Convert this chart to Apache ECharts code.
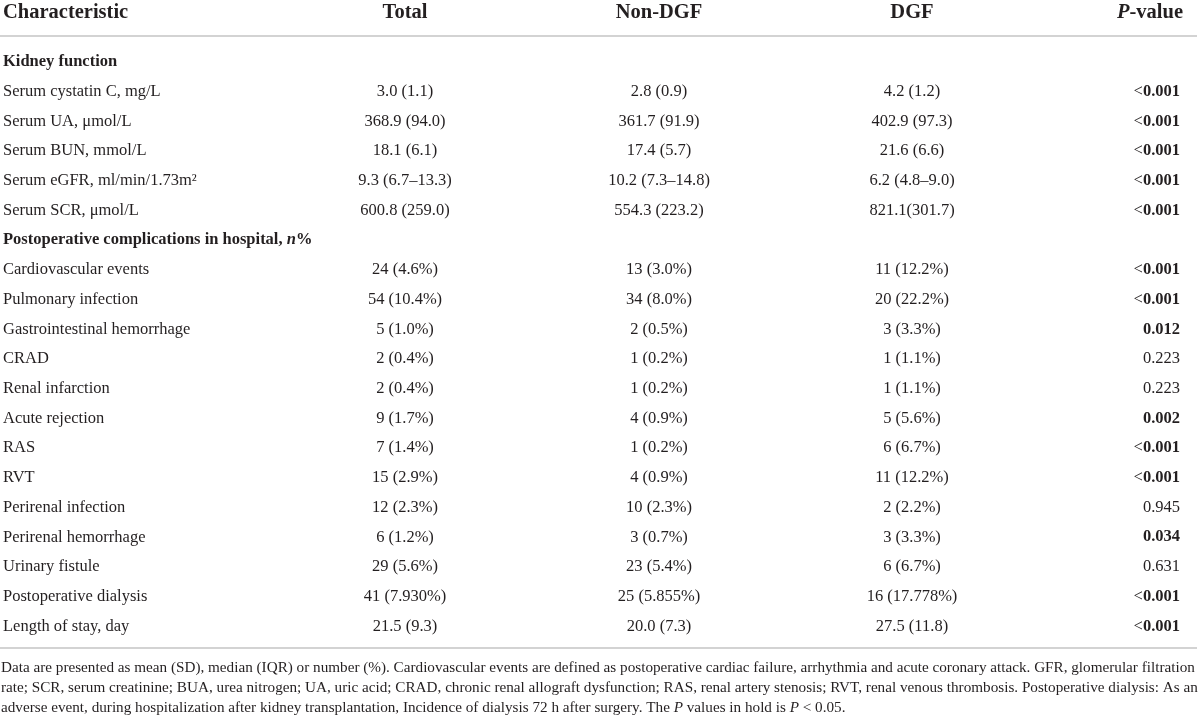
<!DOCTYPE html>
<html>
<head>
<meta charset="utf-8">
<title>DGF table</title>
<style>
  html, body { margin: 0; padding: 0; background: #fff; }
  #container { width: 1200px; height: 721px; }
</style>
</head>
<body>
<div id="container"></div>
<script src="https://cdn.jsdelivr.net/npm/echarts@6/dist/echarts.min.js"></script>
<script>
// ---- table content ----
var headers = ['Characteristic', 'Total', 'Non-DGF', 'DGF', '{i|P}-value'];

var rowLabels = [
  'Kidney function',
  'Serum cystatin C, mg/L',
  'Serum UA, \u03bcmol/L',
  'Serum BUN, mmol/L',
  'Serum eGFR, ml/min/1.73m\u00b2',
  'Serum SCR, \u03bcmol/L',
  'Postoperative complications in hospital, {bi|n}%',
  'Cardiovascular events',
  'Pulmonary infection',
  'Gastrointestinal hemorrhage',
  'CRAD',
  'Renal infarction',
  'Acute rejection',
  'RAS',
  'RVT',
  'Perirenal infection',
  'Perirenal hemorrhage',
  'Urinary fistule',
  'Postoperative dialysis',
  'Length of stay, day'
];
var sectionRows = [0, 6];

var totalVals = ['', '3.0 (1.1)', '368.9 (94.0)', '18.1 (6.1)', '9.3 (6.7\u201313.3)', '600.8 (259.0)',
  '', '24 (4.6%)', '54 (10.4%)', '5 (1.0%)', '2 (0.4%)', '2 (0.4%)', '9 (1.7%)', '7 (1.4%)',
  '15 (2.9%)', '12 (2.3%)', '6 (1.2%)', '29 (5.6%)', '41 (7.930%)', '21.5 (9.3)'];
var nonDgfVals = ['', '2.8 (0.9)', '361.7 (91.9)', '17.4 (5.7)', '10.2 (7.3\u201314.8)', '554.3 (223.2)',
  '', '13 (3.0%)', '34 (8.0%)', '2 (0.5%)', '1 (0.2%)', '1 (0.2%)', '4 (0.9%)', '1 (0.2%)',
  '4 (0.9%)', '10 (2.3%)', '3 (0.7%)', '23 (5.4%)', '25 (5.855%)', '20.0 (7.3)'];
var dgfVals = ['', '4.2 (1.2)', '402.9 (97.3)', '21.6 (6.6)', '6.2 (4.8\u20139.0)', '821.1(301.7)',
  '', '11 (12.2%)', '20 (22.2%)', '3 (3.3%)', '1 (1.1%)', '1 (1.1%)', '5 (5.6%)', '6 (6.7%)',
  '11 (12.2%)', '2 (2.2%)', '3 (3.3%)', '6 (6.7%)', '16 (17.778%)', '27.5 (11.8)'];
var pVals = ['', '<0.001', '<0.001', '<0.001', '<0.001', '<0.001',
  '', '<0.001', '<0.001', '0.012', '0.223', '0.223', '0.002', '<0.001',
  '<0.001', '0.945', '0.034', '0.631', '<0.001', '<0.001'];

var footnotes = [
  'Data are presented as mean (SD), median (IQR) or number (%). Cardiovascular events are defined as postoperative cardiac failure, arrhythmia and acute coronary attack. GFR, glomerular filtration',
  'rate; SCR, serum creatinine; BUA, urea nitrogen; UA, uric acid; CRAD, chronic renal allograft dysfunction; RAS, renal artery stenosis; RVT, renal venous thrombosis. Postoperative dialysis: As an',
  'adverse event, during hospitalization after kidney transplantation, Incidence of dialysis 72 h after surgery. The {fi|P} values in hold is {fi|P} < 0.05.'
];

// ---- layout (not data) ----
var FAMILY = '"Liberation Serif", "DejaVu Serif", serif';
var INK = '#231f20';
var colX = [3, 405, 659, 912, 1180];
var colAlign = ['left', 'center', 'center', 'center', 'right'];
var headerRow = -1.65;
var ruleRows = [-0.875, 19.73];
var footRows = [20.4, 21.08, 21.76];
var FOOT_SIZE = 15.2;

function font(style, weight, size) {
  return style + ' ' + weight + ' ' + size + 'px ' + FAMILY;
}

// build the cell list from the arrays
var cols = [totalVals, nonDgfVals, dgfVals, pVals];
var cells = [];
headers.forEach(function (h, c) {
  cells.push({ col: c, row: headerRow, text: h, kind: 'head' });
});
rowLabels.forEach(function (lab, r) {
  var isSection = sectionRows.indexOf(r) >= 0;
  cells.push({ col: 0, row: r, text: lab, kind: isSection ? 'section' : 'label' });
  cols.forEach(function (arr, i) {
    var v = arr[r];
    if (!v) return;
    if (i === 3) {
      var sig = v.charAt(0) === '<' || parseFloat(v) < 0.05;
      var txt = v.charAt(0) === '<' ? '{lt|<}' + v.slice(1) : v;
      cells.push({ col: 4, row: r, text: txt, kind: sig ? 'pbold' : 'value' });
    } else {
      cells.push({ col: i + 1, row: r, text: v, kind: 'value' });
    }
  });
});

var richAll = {
  i: { font: font('italic', 'bold', 20.5), fill: INK },
  bi: { font: font('italic', 'bold', 16.5), fill: INK },
  lt: { font: font('normal', 'normal', 16.5), fill: INK },
  fi: { font: font('italic', 'normal', FOOT_SIZE), fill: INK }
};

var chart = echarts.init(document.getElementById('container'), null, { renderer: 'canvas' });

chart.setOption({
  backgroundColor: '#fff',
  animation: false,
  grid: { left: 0, right: 0, top: 2.6, bottom: 5.6 },
  xAxis: { type: 'value', min: 0, max: 1200, show: false },
  yAxis: { type: 'value', min: -2, max: 22, inverse: true, show: false },
  series: [
    {
      type: 'custom',
      silent: true,
      clip: false,
      data: cells.map(function (c) { return [colX[c.col], c.row]; }),
      renderItem: function (params, api) {
        var cell = cells[params.dataIndex];
        var pt = api.coord([api.value(0), api.value(1)]);
        var f;
        if (cell.kind === 'head') f = font('normal', 'bold', 20.5);
        else if (cell.kind === 'section' || cell.kind === 'pbold') f = font('normal', 'bold', 16.5);
        else f = font('normal', 'normal', 16.5);
        var x = pt[0];
        if (cell.kind === 'head' && cell.col === 4) x += 3;
        return {
          type: 'text',
          x: x,
          y: pt[1],
          style: {
            text: cell.text,
            font: f,
            fill: INK,
            align: colAlign[cell.col],
            verticalAlign: 'middle',
            rich: richAll
          }
        };
      }
    },
    {
      type: 'custom',
      silent: true,
      clip: false,
      data: ruleRows.map(function (r) { return [0, r]; }),
      renderItem: function (params, api) {
        var a = api.coord([0, api.value(1)]);
        var b = api.coord([1197, api.value(1)]);
        return {
          type: 'line',
          shape: { x1: a[0], y1: a[1], x2: b[0], y2: b[1] },
          style: { stroke: '#c4c4c4', lineWidth: 1.5 }
        };
      }
    },
    {
      type: 'custom',
      silent: true,
      clip: false,
      data: footRows.map(function (r) { return [1, r]; }),
      renderItem: function (params, api) {
        var pt = api.coord([api.value(0), api.value(1)]);
        return {
          type: 'text',
          x: pt[0],
          y: pt[1],
          style: {
            text: footnotes[params.dataIndex],
            font: font('normal', 'normal', FOOT_SIZE),
            fill: INK,
            align: 'left',
            verticalAlign: 'middle',
            rich: richAll
          }
        };
      }
    }
  ]
});
</script>
</body>
</html>
